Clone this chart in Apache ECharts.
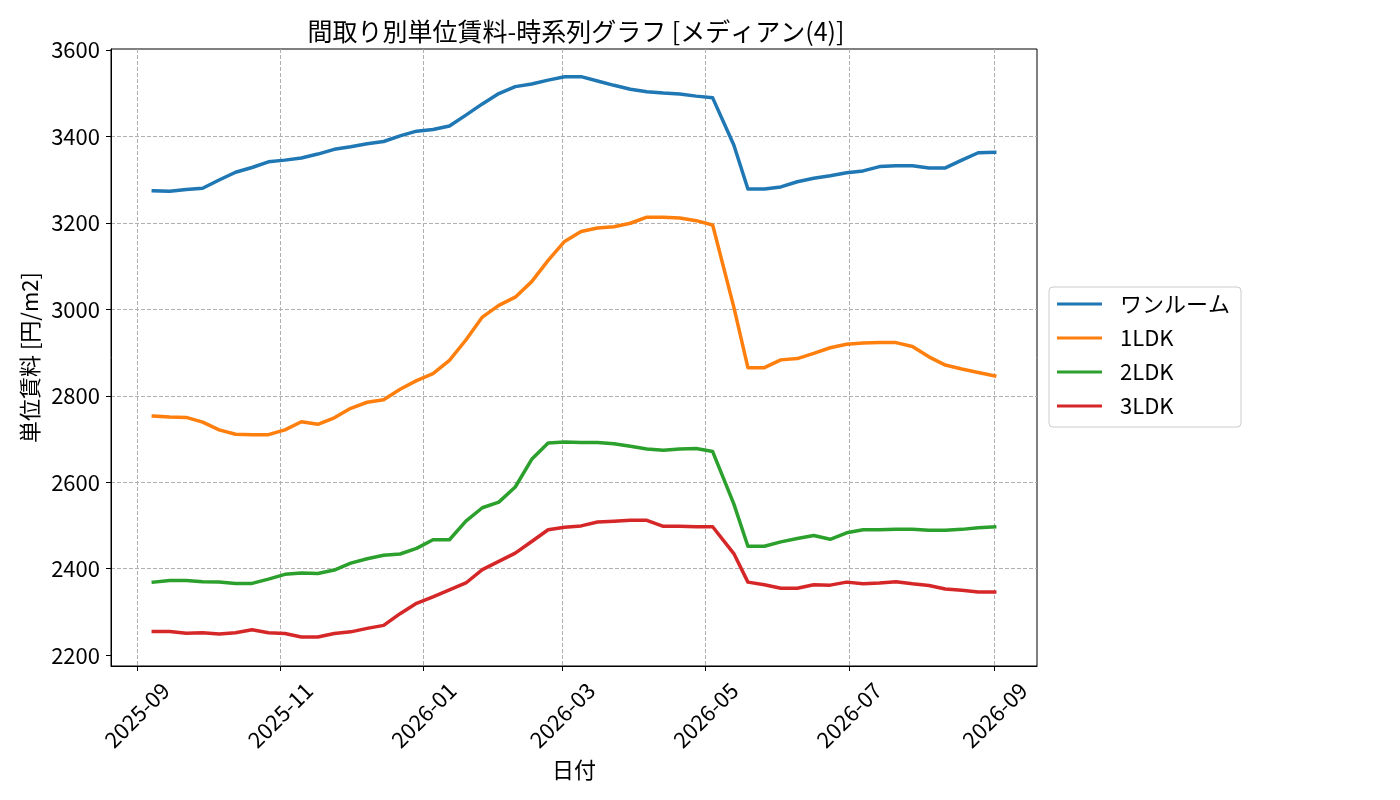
<!DOCTYPE html>
<html>
<head>
<meta charset="utf-8">
<script src="https://cdn.jsdelivr.net/npm/echarts@6/dist/echarts.min.js"></script>
<style>
html,body{margin:0;padding:0;background:#fff;}
#chart{width:1400px;height:800px;}
</style>
</head>
<body>
<div id="chart"></div>
<script>
const dates = [
  '2025-09-08','2025-09-15','2025-09-22','2025-09-29','2025-10-06','2025-10-13','2025-10-20','2025-10-27',
  '2025-11-03','2025-11-10','2025-11-17','2025-11-24','2025-12-01','2025-12-08','2025-12-15','2025-12-22',
  '2025-12-29','2026-01-05','2026-01-12','2026-01-19','2026-01-26','2026-02-02','2026-02-09','2026-02-16',
  '2026-02-23','2026-03-02','2026-03-09','2026-03-16','2026-03-23','2026-03-30','2026-04-06','2026-04-13',
  '2026-04-20','2026-04-27','2026-05-04','2026-05-13','2026-05-19','2026-05-26','2026-06-02','2026-06-09',
  '2026-06-16','2026-06-23','2026-06-30','2026-07-07','2026-07-14','2026-07-21','2026-07-28','2026-08-04',
  '2026-08-11','2026-08-18','2026-08-25','2026-09-01'
];
const seriesNames = ['ワンルーム','1LDK','2LDK','3LDK'];
const oneRoom = [3274,3273,3277,3280,3299,3317,3328,3341,3345,3350,3359,3370,3376,3383,3388,3401,3412,
  3416,3424,3449,3475,3499,3515,3521,3530,3538,3538,3528,3518,3509,3503,3500,3498,3493,3489,
  3380,3278,3278,3283,3295,3303,3309,3316,3320,3330,3332,3332,3327,3327,3345,3362,3363];
const ldk1 = [2753,2751,2750,2739,2721,2711,2710,2710,2721,2740,2734,2749,2771,2785,2791,2815,2835,
  2851,2882,2929,2982,3009,3028,3064,3113,3157,3180,3188,3191,3199,3213,3213,3211,3205,3195,
  3005,2865,2865,2883,2886,2898,2911,2919,2922,2923,2923,2914,2890,2871,2862,2854,2846];
const ldk2 = [2369,2373,2373,2370,2369,2366,2366,2376,2387,2390,2389,2397,2413,2423,2431,2434,2447,
  2467,2467,2510,2541,2554,2589,2653,2691,2693,2692,2692,2689,2683,2677,2674,2677,2678,2671,
  2550,2452,2452,2462,2470,2477,2468,2483,2490,2490,2491,2491,2489,2489,2491,2495,2497];
const ldk3 = [2255,2255,2251,2252,2249,2252,2259,2252,2250,2242,2242,2250,2254,2262,2269,2296,2320,
  2335,2351,2367,2398,2417,2436,2463,2490,2496,2499,2508,2510,2512,2512,2498,2498,2497,2497,
  2435,2369,2363,2355,2355,2363,2362,2369,2365,2367,2370,2365,2361,2353,2350,2346,2346];
const yTicks = [2200, 2400, 2600, 2800, 3000, 3200, 3400, 3600];
const colors = ['#1f77b4','#ff7f0e','#2ca02c','#d62728'];
const titleText = '間取り別単位賃料-時系列グラフ [メディアン(4)]';
const xName = '日付';
const yName = '単位賃料 [円/m2]';

const allValues = [oneRoom, ldk1, ldk2, ldk3];
const FONT = '"Noto Sans CJK JP", "Noto Sans", sans-serif';

const chart = echarts.init(document.getElementById('chart'), null, {renderer: 'canvas'});
const DAY = 86400000;
chart.setOption({
  animation: false,
  backgroundColor: '#fff',
  textStyle: {fontFamily: FONT, color: '#000'},
  title: {
    text: titleText,
    left: 571,
    top: 14,
    textAlign: 'center',
    textStyle: {fontFamily: FONT, fontSize: 25, fontWeight: 'normal', color: '#000'}
  },
  grid: {
    left: 111, right: 363, top: 49, bottom: 134,
    show: true, borderColor: '#000', borderWidth: 1, backgroundColor: 'transparent'
  },
  legend: {
    orient: 'vertical',
    left: 1049, top: 287,
    data: seriesNames,
    icon: 'rect',
    itemWidth: 45, itemHeight: 3,
    itemGap: 10,
    padding: [5, 11, 9, 8],
    borderColor: '#cccccc', borderWidth: 1, borderRadius: 4,
    backgroundColor: '#fff',
    textStyle: {fontFamily: FONT, fontSize: 22, color: '#000', lineHeight: 24, padding: [0, 0, 0, 13]}
  },
  xAxis: {
    type: 'time',
    min: '2025-08-21',
    max: '2026-09-19',
    minInterval: 61 * DAY,
    maxInterval: 62 * DAY,
    name: xName,
    nameLocation: 'middle',
    nameGap: 87,
    nameTextStyle: {fontFamily: FONT, fontSize: 22, color: '#000'},
    axisLine: {show: true, lineStyle: {color: '#000', width: 1}},
    axisTick: {show: true, length: 5, lineStyle: {color: '#000'}},
    splitLine: {show: true, showMinLine: false, showMaxLine: false,
      lineStyle: {color: '#b0b0b0', type: [4, 2], width: 1}},
    minorTick: {show: false},
    axisLabel: {
      rotate: 45,
      align: 'center',
      verticalAlign: 'middle',
      margin: 49,
      fontFamily: FONT, fontSize: 22, color: '#000',
      formatter: function (v) {
        const d = new Date(v);
        return d.getFullYear() + '-' + String(d.getMonth() + 1).padStart(2, '0');
      }
    }
  },
  yAxis: {
    type: 'value',
    min: 2175,
    max: 3602,
    splitNumber: 7,
    name: yName,
    nameLocation: 'middle',
    nameGap: 70,
    nameRotate: 90,
    nameTextStyle: {fontFamily: FONT, fontSize: 22, color: '#000'},
    axisLine: {show: true, lineStyle: {color: '#000', width: 1}},
    axisTick: {show: true, length: 5, customValues: yTicks, lineStyle: {color: '#000'}},
    splitLine: {show: true, showMinLine: false, showMaxLine: false,
      lineStyle: {color: '#b0b0b0', type: [4, 2], width: 1}},
    axisLabel: {
      margin: 11,
      customValues: yTicks,
      fontFamily: FONT, fontSize: 22, color: '#000',
      formatter: function (v) { return String(v); }
    }
  },
  series: seriesNames.map(function (name, k) {
    return {
      name: name,
      type: 'line',
      symbol: 'none',
      color: colors[k],
      lineStyle: {width: 3.5, color: colors[k], cap: 'square', join: 'round'},
      data: dates.map(function (d, i) { return [d, allValues[k][i]]; })
    };
  })
});
</script>
</body>
</html>
